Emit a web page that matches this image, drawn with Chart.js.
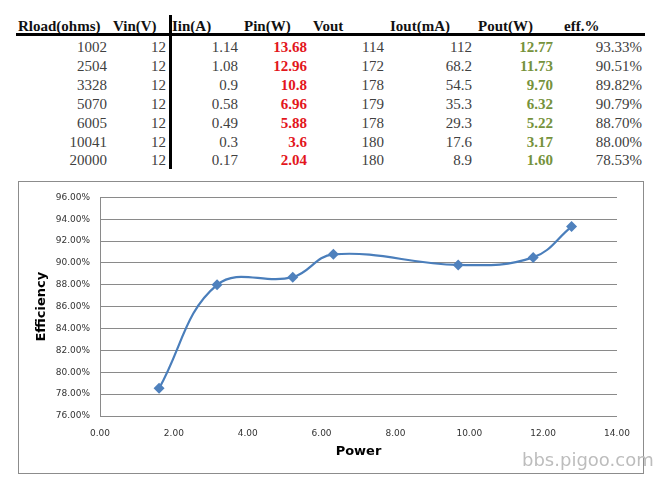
<!DOCTYPE html>
<html>
<head>
  <meta charset="UTF-8" />
  <title>Efficiency vs Power</title>
  <script src="https://cdn.jsdelivr.net/npm/chart.js"></script>
  <style>
    body { margin: 0; background: #fff; width: 659px; height: 483px; overflow: hidden; position: relative; }
    .cell { position: absolute; font-family: "Liberation Serif", serif; font-size: 15px; color: #404040; white-space: nowrap; line-height: 18px; }
    .hd { font-weight: bold; color: #111; }
    .red { color: #e3161c; font-weight: bold; }
    .green { color: #76923c; font-weight: bold; }
    #hline { position: absolute; left: 16px; top: 33px; width: 629px; height: 3px; background: #000; }
    #vline { position: absolute; left: 169px; top: 15px; width: 3px; height: 154px; background: #000; }
    #box { position: absolute; left: 18px; top: 181px; width: 624px; height: 291px; border: 1px solid #8c8c8c; }
    #mark { position: absolute; left: 522px; top: 449px; font-family: "DejaVu Sans", sans-serif; font-size: 18px; color: #bdbdbd; }
  </style>
</head>
<body>
  <div id="table"></div>
  <div id="hline"></div>
  <div id="vline"></div>
  <div id="box"><canvas id="chart" width="624" height="291"></canvas></div>
  <div id="mark">bbs.pigoo.com</div>

  <script>
    // table / chart data
    const headers = ["Rload(ohms)", "Vin(V)", "Iin(A)", "Pin(W)", "Vout", "Iout(mA)", "Pout(W)", "eff.%"];
    const rload = [1002, 2504, 3328, 5070, 6005, 10041, 20000];
    const vin = [12, 12, 12, 12, 12, 12, 12];
    const iin = [1.14, 1.08, 0.9, 0.58, 0.49, 0.3, 0.17];
    const pin = [13.68, 12.96, 10.8, 6.96, 5.88, 3.6, 2.04];
    const vout = [114, 172, 178, 179, 178, 180, 180];
    const iout = [112, 68.2, 54.5, 35.3, 29.3, 17.6, 8.9];
    const pout = [12.77, 11.73, 9.70, 6.32, 5.22, 3.17, 1.60];
    const eff = [93.33, 90.51, 89.82, 90.79, 88.70, 88.00, 78.53];

    const headLeft = [18, 113, 172, 244, 313, 390, 478, 564];
    const colRight = [107, 166, 238, 307, 384, 472, 553, 642];
    const colClass = ["", "", "", "red", "", "", "green", ""];

    const tbl = document.getElementById("table");
    headers.forEach((h, i) => {
      const d = document.createElement("div");
      d.className = "cell hd";
      d.style.left = headLeft[i] + "px";
      d.style.top = "17px";
      d.textContent = h;
      tbl.appendChild(d);
    });

    const cols = [
      rload.map(String), vin.map(String), iin.map(String), pin.map(String),
      vout.map(String), iout.map(String), pout.map(v => v.toFixed(2)), eff.map(v => v.toFixed(2) + "%")
    ];
    cols.forEach((col, c) => {
      col.forEach((txt, r) => {
        const d = document.createElement("div");
        d.className = "cell " + colClass[c];
        d.style.right = (659 - colRight[c]) + "px";
        d.style.top = (38 + r * 18.9) + "px";
        d.textContent = txt;
        tbl.appendChild(d);
      });
    });

    const points = pout.map((p, i) => ({ x: p, y: eff[i] })).sort((a, b) => a.x - b.x);

    new Chart(document.getElementById("chart"), {
      type: "scatter",
      data: {
        datasets: [{
          data: points,
          showLine: true,
          borderColor: "#4a7ebb",
          backgroundColor: "#4f81bd",
          borderWidth: 2.2,
          tension: 0.4,
          pointStyle: "rectRot",
          pointRadius: 5.5,
          pointBorderWidth: 0
        }]
      },
      options: {
        responsive: false,
        animation: false,
        layout: { autoPadding: false, padding: { left: 0, top: 11, right: 26, bottom: 0 } },
        plugins: { legend: { display: false }, tooltip: { enabled: false } },
        scales: {
          x: {
            min: 0, max: 14,
            afterFit: s => { s.height = 57; },
            grid: { display: false, drawTicks: false },
            border: { display: false },
            ticks: {
              stepSize: 2, padding: 12, color: "#333",
              font: { family: "DejaVu Sans", size: 9 },
              callback: v => v.toFixed(2)
            },
            title: {
              display: true, text: "Power", color: "#000",
              font: { family: "DejaVu Sans", size: 13, weight: "bold" },
              padding: { top: 0, bottom: 14 }
            }
          },
          y: {
            min: 76, max: 96,
            afterFit: s => { s.width = 81; },
            grid: { color: "#8a8a8a", drawTicks: false, lineWidth: 1 },
            border: { display: true, color: "#8a8a8a" },
            ticks: {
              stepSize: 2, padding: 10, color: "#333",
              font: { family: "DejaVu Sans", size: 9 },
              callback: v => v.toFixed(2) + "%"
            },
            title: {
              display: true, text: "Efficiency", color: "#000",
              font: { family: "DejaVu Sans", size: 13, weight: "bold" },
              padding: { top: 15, bottom: 0 }
            }
          }
        }
      }
    });
  </script>
</body>
</html>
